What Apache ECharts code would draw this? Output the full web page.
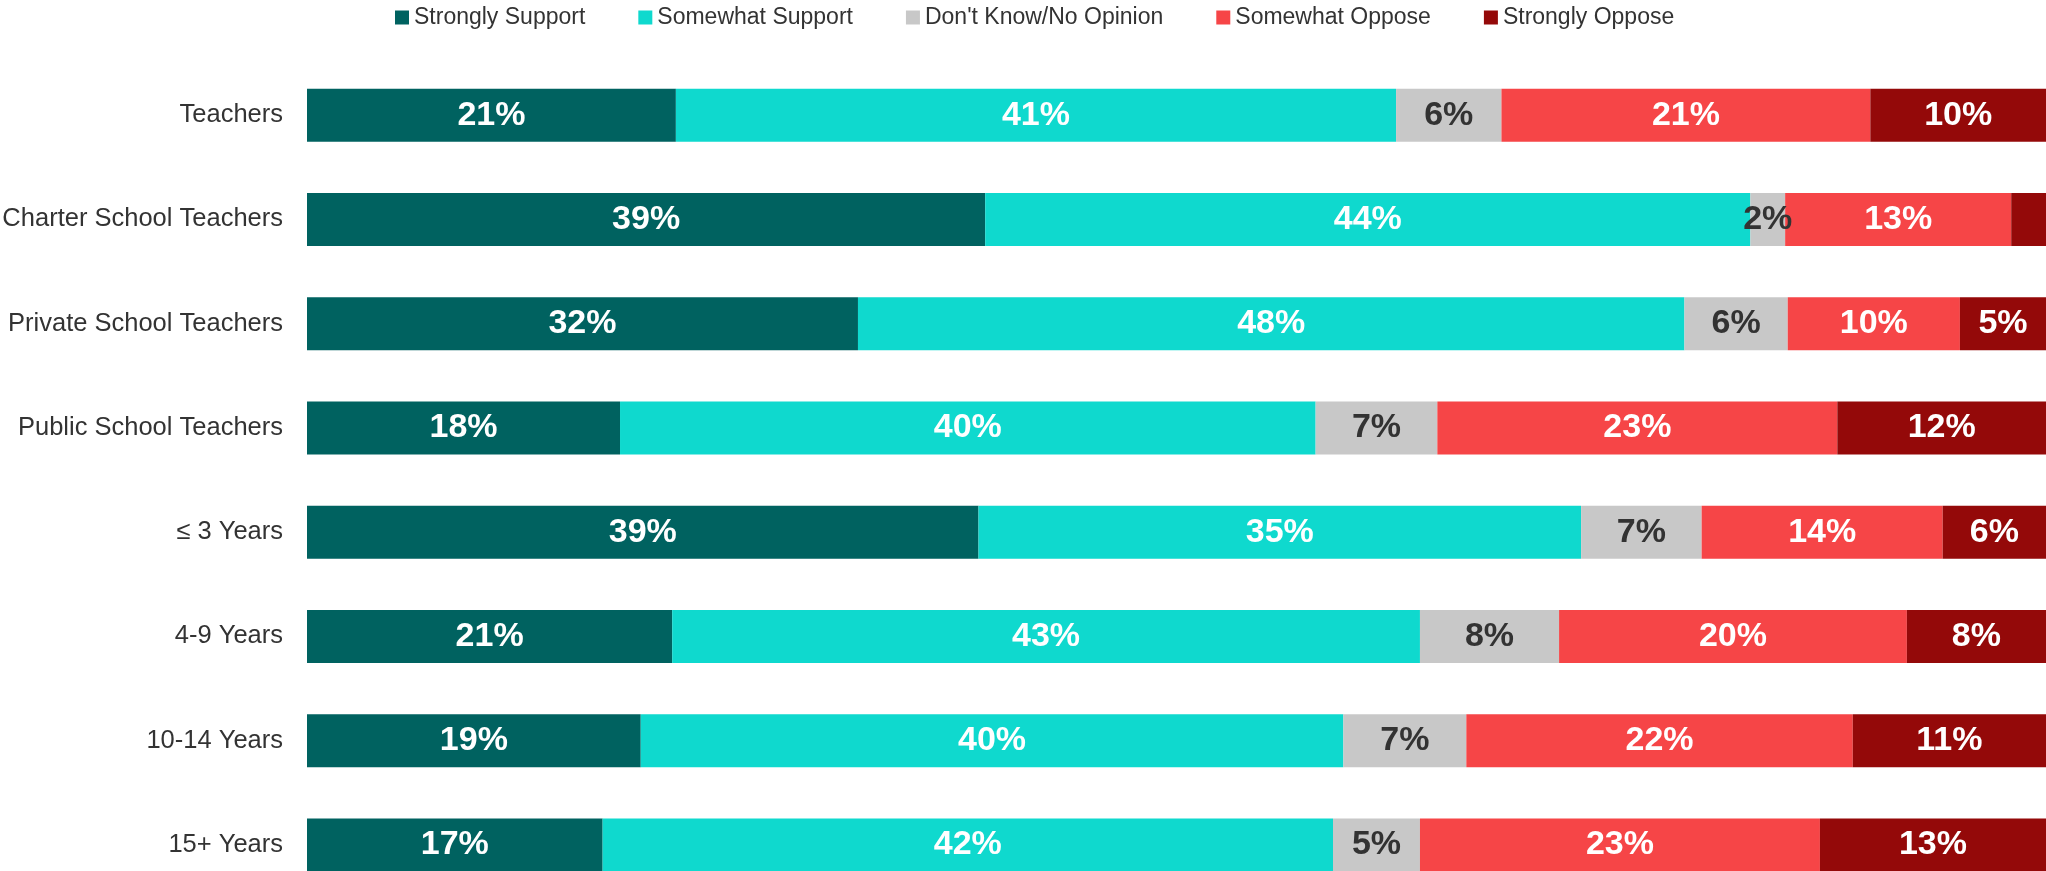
<!DOCTYPE html>
<html>
<head>
<meta charset="utf-8">
<title>Support by teacher group</title>
<script src="https://cdn.jsdelivr.net/npm/echarts@6/dist/echarts.min.js"></script>
<style>
  html, body { margin: 0; padding: 0; background: #ffffff; }
  #chart { width: 2046px; height: 871px; }
</style>
</head>
<body>
<div id="chart"></div>
<script>
// Response groups (top to bottom)
const categories = [
  'Teachers',
  'Charter School Teachers',
  'Private School Teachers',
  'Public School Teachers',
  '≤ 3 Years',
  '4-9 Years',
  '10-14 Years',
  '15+ Years'
];

const seriesNames = [
  'Strongly Support',
  'Somewhat Support',
  "Don't Know/No Opinion",
  'Somewhat Oppose',
  'Strongly Oppose'
];

// Percentages per response, one value per group
const stronglySupport = [21, 39, 32, 18, 39, 21, 19, 17];
const somewhatSupport = [41, 44, 48, 40, 35, 43, 40, 42];
const dontKnow        = [6, 2, 6, 7, 7, 8, 7, 5];
const somewhatOppose  = [21, 13, 10, 23, 14, 20, 22, 23];
const stronglyOppose  = [10, 2, 5, 12, 6, 8, 11, 13];

const colors = ['#006260', '#0fd9ce', '#c8c8c8', '#f64547', '#940909'];
const labelColors = ['#ffffff', '#ffffff', '#333333', '#ffffff', '#ffffff'];

const FONT = "'Liberation Sans', Arial, Helvetica, sans-serif";

const allValues = [stronglySupport, somewhatSupport, dontKnow, somewhatOppose, stronglyOppose];

// Each row is drawn as a 100% bar: rounded shares are scaled by the row total
const rowTotals = categories.map((_, i) => allValues.reduce((s, arr) => s + arr[i], 0));

// Segments too narrow to carry a readable label
const hiddenLabels = { '4-1': true };

const series = allValues.map((arr, si) => ({
  name: seriesNames[si],
  type: 'bar',
  stack: 'total',
  barWidth: 53,
  itemStyle: { color: colors[si] },
  label: {
    show: true,
    position: 'inside',
    color: labelColors[si],
    fontFamily: FONT,
    fontWeight: 'bold',
    fontSize: 34,
    formatter: p => arr[p.dataIndex] + '%'
  },
  emphasis: { disabled: true },
  data: arr.map((v, i) => {
    const item = { value: v / rowTotals[i] * 100 };
    if (hiddenLabels[si + '-' + i]) item.label = { show: false };
    return item;
  })
}));

const chart = echarts.init(document.getElementById('chart'), null, { renderer: 'canvas' });
chart.setOption({
  animation: false,
  color: colors,
  textStyle: { fontFamily: FONT },
  legend: {
    top: 1,
    left: 390,
    itemWidth: 14,
    itemHeight: 14,
    itemGap: 53,
    icon: 'rect',
    textStyle: { fontSize: 23, color: '#333333', fontFamily: FONT },
    data: seriesNames
  },
  grid: {
    left: 307,
    top: 63,
    width: 1739,
    height: 834,
    containLabel: false,
    outerBoundsMode: 'none'
  },
  xAxis: {
    type: 'value',
    min: 0,
    max: 100,
    show: false
  },
  yAxis: {
    type: 'category',
    inverse: true,
    data: categories,
    axisLine: { show: false },
    axisTick: { show: false },
    axisLabel: {
      fontSize: 25.5,
      color: '#333333',
      margin: 24,
      padding: [4, 0, 0, 0],
      fontFamily: FONT
    }
  },
  series: series
});
</script>
</body>
</html>
